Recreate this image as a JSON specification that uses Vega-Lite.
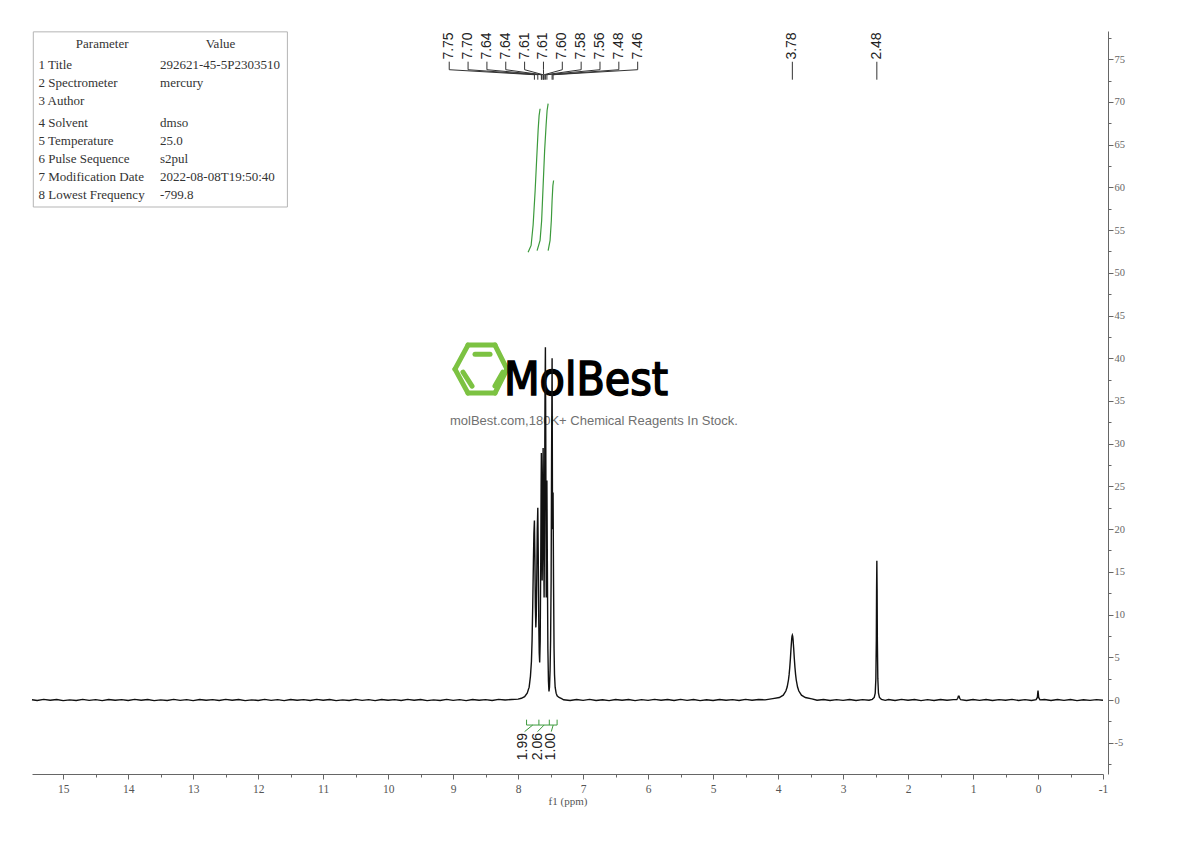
{
  "$schema": "https://vega.github.io/schema/vega-lite/v6.json",
  "width": 1071,
  "height": 743,
  "autosize": {"type": "none"},
  "padding": {"left": 32, "top": 31, "right": 87, "bottom": 67},
  "background": "white",
  "config": {"view": {"stroke": null}, "axis": {"grid": false}},
  "datasets": {
    "spec": [
      {"x": 15.48, "y": 0.03}, {"x": 15.4, "y": -0.06}, {"x": 15.3, "y": 0.07}, {"x": 15.2, "y": -0.03}, {"x": 15.1, "y": 0.06}, {"x": 15.0, "y": -0.07}, {"x": 14.9, "y": 0.02}, {"x": 14.8, "y": -0.05}, {"x": 14.7, "y": 0.07}, {"x": 14.6, "y": -0.04}, {"x": 14.5, "y": 0.04}, {"x": 14.4, "y": -0.07}, {"x": 14.3, "y": 0.05}, {"x": 14.2, "y": -0.02}, {"x": 14.1, "y": 0.05}, {"x": 14.0, "y": -0.06}, {"x": 13.9, "y": 0.07}, {"x": 13.8, "y": -0.03}, {"x": 13.7, "y": 0.06}, {"x": 13.6, "y": -0.07}, {"x": 13.5, "y": 0.02}, {"x": 13.4, "y": -0.05}, {"x": 13.3, "y": 0.07}, {"x": 13.2, "y": -0.04}, {"x": 13.1, "y": 0.04}, {"x": 13.0, "y": -0.07}, {"x": 12.9, "y": 0.05}, {"x": 12.8, "y": -0.02}, {"x": 12.7, "y": 0.05}, {"x": 12.6, "y": -0.06}, {"x": 12.5, "y": 0.07}, {"x": 12.4, "y": -0.03}, {"x": 12.3, "y": 0.06}, {"x": 12.2, "y": -0.07}, {"x": 12.1, "y": 0.02}, {"x": 12.0, "y": -0.05}, {"x": 11.9, "y": 0.07}, {"x": 11.8, "y": -0.04}, {"x": 11.7, "y": 0.04}, {"x": 11.6, "y": -0.07}, {"x": 11.5, "y": 0.05}, {"x": 11.4, "y": -0.02}, {"x": 11.3, "y": 0.05}, {"x": 11.2, "y": -0.06}, {"x": 11.1, "y": 0.07}, {"x": 11.0, "y": -0.03}, {"x": 10.9, "y": 0.06}, {"x": 10.8, "y": -0.07}, {"x": 10.7, "y": 0.02}, {"x": 10.6, "y": -0.05}, {"x": 10.5, "y": 0.07}, {"x": 10.4, "y": -0.04}, {"x": 10.3, "y": 0.04}, {"x": 10.2, "y": -0.07}, {"x": 10.1, "y": 0.05}, {"x": 10.0, "y": -0.02}, {"x": 9.9, "y": 0.05}, {"x": 9.8, "y": -0.06}, {"x": 9.7, "y": 0.07}, {"x": 9.6, "y": -0.03}, {"x": 9.5, "y": 0.06}, {"x": 9.4, "y": -0.07}, {"x": 9.3, "y": 0.02}, {"x": 9.2, "y": -0.05}, {"x": 9.1, "y": 0.07}, {"x": 9.0, "y": -0.04}, {"x": 8.9, "y": 0.04}, {"x": 8.8, "y": -0.07}, {"x": 8.7, "y": 0.05}, {"x": 8.6, "y": -0.02}, {"x": 8.5, "y": 0.05}, {"x": 8.4, "y": -0.06}, {"x": 8.3, "y": 0.07}, {"x": 8.2, "y": 0.0}, {"x": 8.1, "y": 0.06}, {"x": 8.0, "y": 0.1}, {"x": 7.95, "y": 0.2},
      {"x": 7.9, "y": 0.4}, {"x": 7.86, "y": 0.8}, {"x": 7.83, "y": 1.5}, {"x": 7.81, "y": 2.8}, {"x": 7.795, "y": 4.5}, {"x": 7.785, "y": 7}, {"x": 7.775, "y": 11}, {"x": 7.765, "y": 16}, {"x": 7.757, "y": 19.5}, {"x": 7.749, "y": 21}, {"x": 7.742, "y": 17}, {"x": 7.735, "y": 11}, {"x": 7.727, "y": 8.5}, {"x": 7.72, "y": 10}, {"x": 7.712, "y": 15}, {"x": 7.705, "y": 20}, {"x": 7.697, "y": 22.5}, {"x": 7.69, "y": 17}, {"x": 7.682, "y": 9}, {"x": 7.675, "y": 5.5}, {"x": 7.668, "y": 4.4}, {"x": 7.66, "y": 7}, {"x": 7.652, "y": 16}, {"x": 7.646, "y": 25}, {"x": 7.642, "y": 28.9}, {"x": 7.636, "y": 22}, {"x": 7.63, "y": 14}, {"x": 7.624, "y": 18}, {"x": 7.619, "y": 26}, {"x": 7.615, "y": 29.5}, {"x": 7.608, "y": 20}, {"x": 7.6, "y": 12}, {"x": 7.594, "y": 20}, {"x": 7.586, "y": 36}, {"x": 7.58, "y": 41.3}, {"x": 7.574, "y": 30}, {"x": 7.567, "y": 12}, {"x": 7.562, "y": 19}, {"x": 7.557, "y": 25.7}, {"x": 7.55, "y": 16}, {"x": 7.542, "y": 6}, {"x": 7.533, "y": 2.2}, {"x": 7.525, "y": 1.0}, {"x": 7.517, "y": 1.5}, {"x": 7.508, "y": 3.5}, {"x": 7.5, "y": 7}, {"x": 7.492, "y": 14}, {"x": 7.485, "y": 28}, {"x": 7.477, "y": 40}, {"x": 7.471, "y": 22}, {"x": 7.467, "y": 20}, {"x": 7.462, "y": 24.3}, {"x": 7.455, "y": 14}, {"x": 7.447, "y": 6}, {"x": 7.44, "y": 3}, {"x": 7.43, "y": 1.5}, {"x": 7.415, "y": 0.8}, {"x": 7.4, "y": 0.5}, {"x": 7.37, "y": 0.3}, {"x": 7.33, "y": 0.15},
      {"x": 7.3, "y": 0.03}, {"x": 7.2, "y": -0.06}, {"x": 7.1, "y": 0.05}, {"x": 7.0, "y": -0.04}, {"x": 6.9, "y": 0.07}, {"x": 6.8, "y": -0.05}, {"x": 6.7, "y": 0.03}, {"x": 6.6, "y": -0.07}, {"x": 6.5, "y": 0.05}, {"x": 6.4, "y": -0.03}, {"x": 6.3, "y": 0.06}, {"x": 6.2, "y": -0.07}, {"x": 6.1, "y": 0.04}, {"x": 6.0, "y": -0.04}, {"x": 5.9, "y": 0.07}, {"x": 5.8, "y": -0.03}, {"x": 5.7, "y": 0.05}, {"x": 5.6, "y": -0.06}, {"x": 5.5, "y": 0.07}, {"x": 5.4, "y": -0.04}, {"x": 5.3, "y": 0.05}, {"x": 5.2, "y": -0.07}, {"x": 5.1, "y": 0.03}, {"x": 5.0, "y": -0.05}, {"x": 4.9, "y": 0.06}, {"x": 4.8, "y": -0.03}, {"x": 4.7, "y": 0.04}, {"x": 4.6, "y": -0.06}, {"x": 4.5, "y": 0.07}, {"x": 4.4, "y": -0.02}, {"x": 4.3, "y": 0.06}, {"x": 4.2, "y": 0.02}, {"x": 4.08, "y": 0.16}, {"x": 3.98, "y": 0.29}, {"x": 3.92, "y": 0.57}, {"x": 3.88, "y": 1.05}, {"x": 3.86, "y": 1.52}, {"x": 3.84, "y": 2.34}, {"x": 3.83, "y": 2.97}, {"x": 3.82, "y": 3.8}, {"x": 3.81, "y": 4.86}, {"x": 3.8, "y": 6.08}, {"x": 3.79, "y": 7.15}, {"x": 3.785, "y": 7.48}, {"x": 3.78, "y": 7.6}, {"x": 3.775, "y": 7.48}, {"x": 3.77, "y": 7.15}, {"x": 3.76, "y": 6.08}, {"x": 3.75, "y": 4.86}, {"x": 3.74, "y": 3.8}, {"x": 3.73, "y": 2.97}, {"x": 3.72, "y": 2.34}, {"x": 3.7, "y": 1.52}, {"x": 3.68, "y": 1.05}, {"x": 3.64, "y": 0.57}, {"x": 3.58, "y": 0.29}, {"x": 3.48, "y": 0.13},
      {"x": 3.4, "y": -0.03}, {"x": 3.3, "y": 0.05}, {"x": 3.2, "y": -0.06}, {"x": 3.1, "y": 0.04}, {"x": 3.0, "y": -0.04}, {"x": 2.9, "y": 0.06}, {"x": 2.8, "y": -0.05}, {"x": 2.7, "y": 0.04}, {"x": 2.6, "y": -0.03}, {"x": 2.55, "y": 0.08}, {"x": 2.52, "y": 0.3}, {"x": 2.505, "y": 0.8}, {"x": 2.495, "y": 2.5}, {"x": 2.488, "y": 7}, {"x": 2.484, "y": 13}, {"x": 2.48, "y": 16.3}, {"x": 2.476, "y": 13}, {"x": 2.472, "y": 7}, {"x": 2.465, "y": 2.5}, {"x": 2.455, "y": 0.8}, {"x": 2.44, "y": 0.3}, {"x": 2.41, "y": 0.08}, {"x": 2.35, "y": -0.04}, {"x": 2.3, "y": 0.05}, {"x": 2.2, "y": -0.06}, {"x": 2.1, "y": 0.07}, {"x": 2.0, "y": -0.03}, {"x": 1.9, "y": 0.05}, {"x": 1.8, "y": -0.07}, {"x": 1.7, "y": 0.04}, {"x": 1.6, "y": -0.05}, {"x": 1.5, "y": 0.06}, {"x": 1.4, "y": -0.03}, {"x": 1.3, "y": 0.04}, {"x": 1.25, "y": 0.05}, {"x": 1.235, "y": 0.2}, {"x": 1.225, "y": 0.45}, {"x": 1.215, "y": 0.45}, {"x": 1.205, "y": 0.2}, {"x": 1.19, "y": 0.05}, {"x": 1.1, "y": -0.05}, {"x": 1.0, "y": 0.06}, {"x": 0.9, "y": -0.04}, {"x": 0.8, "y": 0.05}, {"x": 0.7, "y": -0.06}, {"x": 0.6, "y": 0.04}, {"x": 0.5, "y": -0.03}, {"x": 0.4, "y": 0.07}, {"x": 0.3, "y": -0.05}, {"x": 0.2, "y": 0.04}, {"x": 0.1, "y": -0.06}, {"x": 0.03, "y": 0.04}, {"x": 0.01, "y": 0.3}, {"x": 0.004, "y": 0.8}, {"x": 0.0, "y": 1.1}, {"x": -0.004, "y": 0.8}, {"x": -0.01, "y": 0.3}, {"x": -0.03, "y": 0.02}, {"x": -0.1, "y": 0.06}, {"x": -0.2, "y": -0.05}, {"x": -0.3, "y": 0.05}, {"x": -0.4, "y": -0.04}, {"x": -0.5, "y": 0.06}, {"x": -0.6, "y": -0.07}, {"x": -0.7, "y": 0.03}, {"x": -0.8, "y": -0.04}, {"x": -0.9, "y": 0.05}, {"x": -1.0, "y": -0.03}
    ],
    "integrals": [
      {"c": 1, "x": 7.846, "y": 52.4}, {"c": 1, "x": 7.8, "y": 53.2}, {"c": 1, "x": 7.769, "y": 55.6}, {"c": 1, "x": 7.738, "y": 59.6}, {"c": 1, "x": 7.715, "y": 63.2}, {"c": 1, "x": 7.692, "y": 66.7}, {"c": 1, "x": 7.677, "y": 68.4}, {"c": 1, "x": 7.662, "y": 69.2},
      {"c": 2, "x": 7.708, "y": 52.6}, {"c": 2, "x": 7.662, "y": 53.8}, {"c": 2, "x": 7.638, "y": 56.1}, {"c": 2, "x": 7.615, "y": 60.2}, {"c": 2, "x": 7.592, "y": 64.3}, {"c": 2, "x": 7.569, "y": 67.3}, {"c": 2, "x": 7.554, "y": 69.0}, {"c": 2, "x": 7.538, "y": 69.8},
      {"c": 3, "x": 7.538, "y": 52.6}, {"c": 3, "x": 7.508, "y": 53.8}, {"c": 3, "x": 7.489, "y": 56.1}, {"c": 3, "x": 7.477, "y": 58.5}, {"c": 3, "x": 7.465, "y": 60.2}, {"c": 3, "x": 7.454, "y": 60.8}
    ],
    "peaklabels": [
      {"t": "7.75", "x": 9.06, "y": 74.95}, {"t": "7.70", "x": 8.77, "y": 74.95}, {"t": "7.64", "x": 8.48, "y": 74.95}, {"t": "7.64", "x": 8.19, "y": 74.95}, {"t": "7.61", "x": 7.9, "y": 74.95}, {"t": "7.61", "x": 7.61, "y": 74.95}, {"t": "7.60", "x": 7.32, "y": 74.95}, {"t": "7.58", "x": 7.03, "y": 74.95}, {"t": "7.56", "x": 6.74, "y": 74.95}, {"t": "7.48", "x": 6.45, "y": 74.95}, {"t": "7.46", "x": 6.16, "y": 74.95}, {"t": "3.78", "x": 3.78, "y": 74.95}, {"t": "2.48", "x": 2.48, "y": 74.95}
    ],
    "conn": [
      {"x": 9.06, "y": 74.71, "x2": 9.06, "y2": 73.77}, {"x": 9.06, "y": 73.77, "x2": 7.749, "y2": 73.18}, {"x": 7.749, "y": 73.18, "x2": 7.749, "y2": 72.6},
      {"x": 8.77, "y": 74.71, "x2": 8.77, "y2": 73.77}, {"x": 8.77, "y": 73.77, "x2": 7.697, "y2": 73.18}, {"x": 7.697, "y": 73.18, "x2": 7.697, "y2": 72.6},
      {"x": 8.48, "y": 74.71, "x2": 8.48, "y2": 73.77}, {"x": 8.48, "y": 73.77, "x2": 7.642, "y2": 73.18}, {"x": 7.642, "y": 73.18, "x2": 7.642, "y2": 72.6},
      {"x": 8.19, "y": 74.71, "x2": 8.19, "y2": 73.77}, {"x": 8.19, "y": 73.77, "x2": 7.636, "y2": 73.18}, {"x": 7.636, "y": 73.18, "x2": 7.636, "y2": 72.6},
      {"x": 7.9, "y": 74.71, "x2": 7.9, "y2": 73.77}, {"x": 7.9, "y": 73.77, "x2": 7.615, "y2": 73.18}, {"x": 7.615, "y": 73.18, "x2": 7.615, "y2": 72.6},
      {"x": 7.61, "y": 74.71, "x2": 7.61, "y2": 73.77}, {"x": 7.61, "y": 73.77, "x2": 7.608, "y2": 73.18}, {"x": 7.608, "y": 73.18, "x2": 7.608, "y2": 72.6},
      {"x": 7.32, "y": 74.71, "x2": 7.32, "y2": 73.77}, {"x": 7.32, "y": 73.77, "x2": 7.6, "y2": 73.18}, {"x": 7.6, "y": 73.18, "x2": 7.6, "y2": 72.6},
      {"x": 7.03, "y": 74.71, "x2": 7.03, "y2": 73.77}, {"x": 7.03, "y": 73.77, "x2": 7.58, "y2": 73.18}, {"x": 7.58, "y": 73.18, "x2": 7.58, "y2": 72.6},
      {"x": 6.74, "y": 74.71, "x2": 6.74, "y2": 73.77}, {"x": 6.74, "y": 73.77, "x2": 7.557, "y2": 73.18}, {"x": 7.557, "y": 73.18, "x2": 7.557, "y2": 72.6},
      {"x": 6.45, "y": 74.71, "x2": 6.45, "y2": 73.77}, {"x": 6.45, "y": 73.77, "x2": 7.477, "y2": 73.18}, {"x": 7.477, "y": 73.18, "x2": 7.477, "y2": 72.6},
      {"x": 6.16, "y": 74.71, "x2": 6.16, "y2": 73.77}, {"x": 6.16, "y": 73.77, "x2": 7.462, "y2": 73.18}, {"x": 7.462, "y": 73.18, "x2": 7.462, "y2": 72.6},
      {"x": 3.78, "y": 74.7, "x2": 3.78, "y2": 72.6}, {"x": 2.48, "y": 74.7, "x2": 2.48, "y2": 72.6}
    ],
    "intbr": [
      {"x": 7.87, "y": -2.93, "x2": 7.4, "y2": -2.93},
      {"x": 7.87, "y": -2.93, "x2": 7.87, "y2": -2.3}, {"x": 7.68, "y": -2.93, "x2": 7.68, "y2": -2.3}, {"x": 7.52, "y": -2.93, "x2": 7.52, "y2": -2.3}, {"x": 7.4, "y": -2.93, "x2": 7.4, "y2": -2.3},
      {"x": 7.775, "y": -2.93, "x2": 7.9, "y2": -3.7}, {"x": 7.6, "y": -2.93, "x2": 7.7, "y2": -3.7}, {"x": 7.46, "y": -2.93, "x2": 7.49, "y2": -3.7}
    ],
    "intlabels": [
      {"t": "1.99", "x": 7.925, "y": -3.86}, {"t": "2.06", "x": 7.7, "y": -3.86}, {"t": "1.00", "x": 7.49, "y": -3.86}
    ],
    "hex": [
      {"x": 8.971, "y": 38.73, "x2": 8.771, "y2": 41.54}, {"x": 8.771, "y": 41.54, "x2": 8.356, "y2": 41.54}, {"x": 8.356, "y": 41.54, "x2": 8.171, "y2": 38.73}, {"x": 8.171, "y": 38.73, "x2": 8.356, "y2": 35.92}, {"x": 8.356, "y": 35.92, "x2": 8.771, "y2": 35.92}, {"x": 8.771, "y": 35.92, "x2": 8.971, "y2": 38.73},
      {"x": 8.663, "y": 40.48, "x2": 8.432, "y2": 40.48}, {"x": 8.848, "y": 38.38, "x2": 8.709, "y2": 36.74}, {"x": 8.356, "y": 36.74, "x2": 8.233, "y2": 38.38}
    ],
    "logo": [{"t": "MolBest", "x": 6.956, "y": 35.69}],
    "sub": [{"t": "molBest.com,180K+ Chemical Reagents In Stock.", "x": 6.833, "y": 32.64}],
    "box": [{"x": 15.46, "x2": 11.55, "y": 78.2, "y2": 57.7}],
    "thead": [{"t": "Parameter", "x": 14.40, "y": 76.8}, {"t": "Value", "x": 12.58, "y": 76.8}],
    "tbody": [
      {"t": "1 Title", "x": 15.38, "y": 74.3}, {"t": "292621-45-5P2303510", "x": 13.51, "y": 74.3},
      {"t": "2 Spectrometer", "x": 15.38, "y": 72.2}, {"t": "mercury", "x": 13.51, "y": 72.2},
      {"t": "3 Author", "x": 15.38, "y": 70.1},
      {"t": "4 Solvent", "x": 15.38, "y": 67.5}, {"t": "dmso", "x": 13.51, "y": 67.5},
      {"t": "5 Temperature", "x": 15.38, "y": 65.4}, {"t": "25.0", "x": 13.51, "y": 65.4},
      {"t": "6 Pulse Sequence", "x": 15.38, "y": 63.3}, {"t": "s2pul", "x": 13.51, "y": 63.3},
      {"t": "7 Modification Date", "x": 15.38, "y": 61.2}, {"t": "2022-08-08T19:50:40", "x": 13.51, "y": 61.2},
      {"t": "8 Lowest Frequency", "x": 15.38, "y": 59.1}, {"t": "-799.8", "x": 13.51, "y": 59.1}
    ]
  },
  "encoding": {
    "x": {
      "field": "x", "type": "quantitative",
      "scale": {"domain": [-1, 15.48], "reverse": true, "nice": false, "zero": false},
      "axis": {
        "orient": "bottom", "title": "f1 (ppm)",
        "values": [-1, -0.5, 0, 0.5, 1, 1.5, 2, 2.5, 3, 3.5, 4, 4.5, 5, 5.5, 6, 6.5, 7, 7.5, 8, 8.5, 9, 9.5, 10, 10.5, 11, 11.5, 12, 12.5, 13, 13.5, 14, 14.5, 15],
        "labelExpr": "datum.value % 1 === 0 ? '' + datum.value : ''",
        "tickSize": {"condition": {"test": "datum.value % 1 === 0", "value": 5}, "value": 3},
        "labelOverlap": false, "labelFlush": false,
        "labelFont": "Liberation Serif", "labelFontSize": 11.5, "labelColor": "#555", "labelPadding": 4,
        "titleFont": "Liberation Serif", "titleFontSize": 11, "titleFontWeight": "normal", "titleColor": "#555", "titlePadding": 1,
        "domainColor": "#666", "tickColor": "#666"
      }
    },
    "y": {
      "field": "y", "type": "quantitative",
      "scale": {"domain": [-8.66, 78.3], "nice": false, "zero": false},
      "axis": {
        "orient": "right", "offset": 5, "title": null,
        "values": [-7.5, -5, -2.5, 0, 2.5, 5, 7.5, 10, 12.5, 15, 17.5, 20, 22.5, 25, 27.5, 30, 32.5, 35, 37.5, 40, 42.5, 45, 47.5, 50, 52.5, 55, 57.5, 60, 62.5, 65, 67.5, 70, 72.5, 75, 77.5],
        "labelExpr": "datum.value % 5 === 0 ? '' + datum.value : ''",
        "tickSize": {"condition": {"test": "datum.value % 5 === 0", "value": 5}, "value": 3},
        "labelOverlap": false, "labelFlush": false,
        "labelFont": "Liberation Serif", "labelFontSize": 10.5, "labelColor": "#666", "labelPadding": 1,
        "domainColor": "#666", "tickColor": "#666"
      }
    }
  },
  "layer": [
    {"data": {"name": "hex"}, "mark": {"type": "rule", "color": "#7cc242", "strokeWidth": 5, "strokeCap": "round"}, "encoding": {"x2": {"field": "x2"}, "y2": {"field": "y2"}}},
    {"data": {"name": "logo"}, "mark": {"type": "text", "font": "DejaVu Sans Condensed, Liberation Sans Narrow, Roboto Condensed, sans-serif", "fontSize": 46, "fontWeight": "normal", "color": "#000", "align": "center", "baseline": "alphabetic", "stroke": "#000", "strokeWidth": 1.5}, "encoding": {"text": {"field": "t"}}},
    {"data": {"name": "sub"}, "mark": {"type": "text", "font": "Liberation Sans", "fontSize": 13, "color": "#707070", "align": "center", "baseline": "middle"}, "encoding": {"text": {"field": "t"}}},
    {"data": {"name": "box"}, "mark": {"type": "rect", "fill": "white", "stroke": "#b5b5b5", "strokeWidth": 1}, "encoding": {"x2": {"field": "x2"}, "y2": {"field": "y2"}}},
    {"data": {"name": "thead"}, "mark": {"type": "text", "font": "Liberation Serif", "fontSize": 13, "color": "#333", "align": "center", "baseline": "middle"}, "encoding": {"text": {"field": "t"}}},
    {"data": {"name": "tbody"}, "mark": {"type": "text", "font": "Liberation Serif", "fontSize": 13, "color": "#333", "align": "left", "baseline": "middle"}, "encoding": {"text": {"field": "t"}}},
    {"data": {"name": "integrals"}, "mark": {"type": "line", "color": "#3c9a3c", "strokeWidth": 1.2}, "encoding": {"detail": {"field": "c"}, "order": {"field": "y"}}},
    {"data": {"name": "spec"}, "mark": {"type": "line", "color": "#111", "strokeWidth": 1.4}, "encoding": {}},
    {"data": {"name": "peaklabels"}, "mark": {"type": "text", "font": "Liberation Sans", "fontSize": 14, "color": "#222", "angle": 270, "align": "left", "baseline": "middle"}, "encoding": {"text": {"field": "t"}}},
    {"data": {"name": "conn"}, "mark": {"type": "rule", "color": "#333", "strokeWidth": 1}, "encoding": {"x2": {"field": "x2"}, "y2": {"field": "y2"}}},
    {"data": {"name": "intbr"}, "mark": {"type": "rule", "color": "#3c9a3c", "strokeWidth": 1}, "encoding": {"x2": {"field": "x2"}, "y2": {"field": "y2"}}},
    {"data": {"name": "intlabels"}, "mark": {"type": "text", "font": "Liberation Sans", "fontSize": 14, "color": "#222", "angle": 270, "align": "right", "baseline": "middle"}, "encoding": {"text": {"field": "t"}}}
  ]
}
